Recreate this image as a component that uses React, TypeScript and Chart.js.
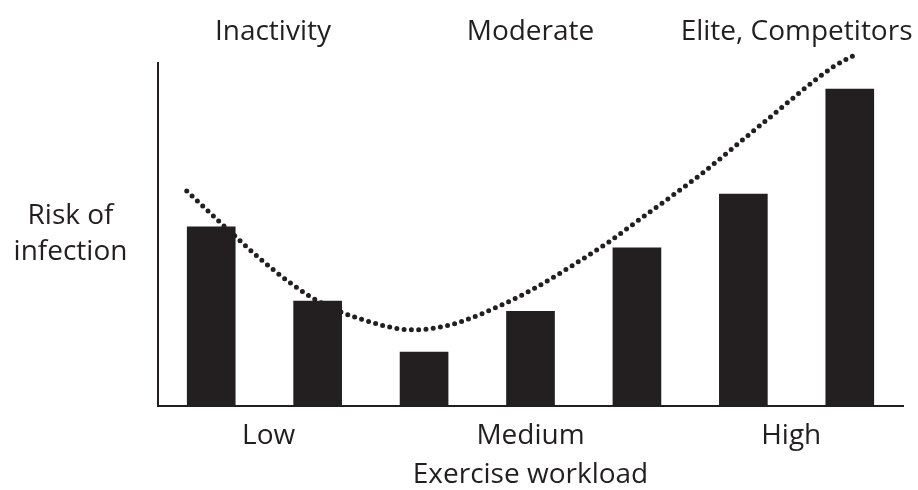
import React, { useEffect, useRef } from "react";
import { Chart, registerables } from "chart.js";

Chart.register(...registerables);

const categories = [0, 1, 2, 3, 4, 5, 6];
const barValues = [52.2, 30.6, 15.7, 27.6, 46.1, 61.8, 92.4];

const curveX = [-0.23, 0.11, 0.46, 0.77, 1.02, 1.37, 1.9, 2.15, 2.34, 2.71, 3.06, 3.4, 3.72, 4.03, 4.34, 4.59, 5.22, 5.84, 6.08];
const curveY = [62.7, 52.8, 42.9, 35.3, 30.3, 25.7, 22.2, 23.0, 24.5, 29.2, 34.7, 41.1, 47.5, 54.5, 61.5, 67.3, 83.4, 98.8, 102.9];

const topLabels = ["Inactivity", "Moderate", "Elite, Competitors"];
const topLabelAt = [0.58, 3.0, 5.5];
const bottomLabels = ["Low", "Medium", "High"];
const bottomLabelAt = [0.54, 3.0, 5.45];
const xTitle = "Exercise workload";
const yTitle = ["Risk of", "infection"];

const INK = "#231f20";
const FONT = '28px "Open Sans"';

const textPlugin = {
  id: "textPlugin",
  afterDraw(chart: any) {
    const ctx = chart.ctx;
    const xs = chart.scales.x;
    const area = chart.chartArea;
    ctx.save();
    ctx.fillStyle = INK;
    ctx.font = FONT;
    ctx.textAlign = "center";
    ctx.textBaseline = "alphabetic";
    topLabels.forEach((t, i) => {
      ctx.fillText(t, xs.getPixelForValue(topLabelAt[i]), area.top - 23);
    });
    bottomLabels.forEach((t, i) => {
      ctx.fillText(t, xs.getPixelForValue(bottomLabelAt[i]), area.bottom + 38);
    });
    ctx.fillText(xTitle, (area.left + area.right) / 2, area.bottom + 77);
    ctx.fillText(yTitle[0], area.left - 87.5, area.top + 161);
    ctx.fillText(yTitle[1], area.left - 87.5, area.top + 197);
    ctx.restore();
  },
};

export default function App() {
  const ref = useRef<HTMLCanvasElement | null>(null);
  useEffect(() => {
    if (!ref.current) return;
    const chart = new Chart(ref.current, {
      type: "bar",
      data: {
        datasets: [
          {
            type: "line",
            data: curveX.map((x, i) => ({ x, y: curveY[i] })),
            borderColor: INK,
            borderWidth: 5,
            borderDash: [0, 7.3],
            borderCapStyle: "round",
            pointRadius: 0,
            cubicInterpolationMode: "monotone",
            fill: false,
            clip: false,
            order: 0,
          } as any,
          {
            type: "bar",
            data: categories.map((c, i) => ({ x: c, y: barValues[i] })),
            backgroundColor: INK,
            borderWidth: 0,
            barThickness: 48,
            order: 1,
          },
        ],
      },
      options: {
        animation: false,
        responsive: false,
        maintainAspectRatio: false,
        layout: { padding: { left: 158, right: 15, top: 63, bottom: 84 } },
        plugins: { legend: { display: false }, tooltip: { enabled: false } },
        scales: {
          x: {
            type: "linear",
            min: -0.5,
            max: 6.5,
            offset: false,
            grid: { display: false, drawTicks: false, offset: false },
            ticks: { display: false },
            border: { display: true, color: INK, width: 2 },
          },
          y: {
            type: "linear",
            min: 0,
            max: 100,
            grid: { display: false, drawTicks: false },
            ticks: { display: false },
            border: { display: true, color: INK, width: 2 },
          },
        },
      } as any,
      plugins: [textPlugin],
    });
    return () => chart.destroy();
  }, []);
  return (
    <div style={{ position: "fixed", left: 0, top: 0, width: 918, height: 490, background: "#fff" }}>
      <canvas ref={ref} width={918} height={490} style={{ width: 918, height: 490, display: "block" }} />
    </div>
  );
}
